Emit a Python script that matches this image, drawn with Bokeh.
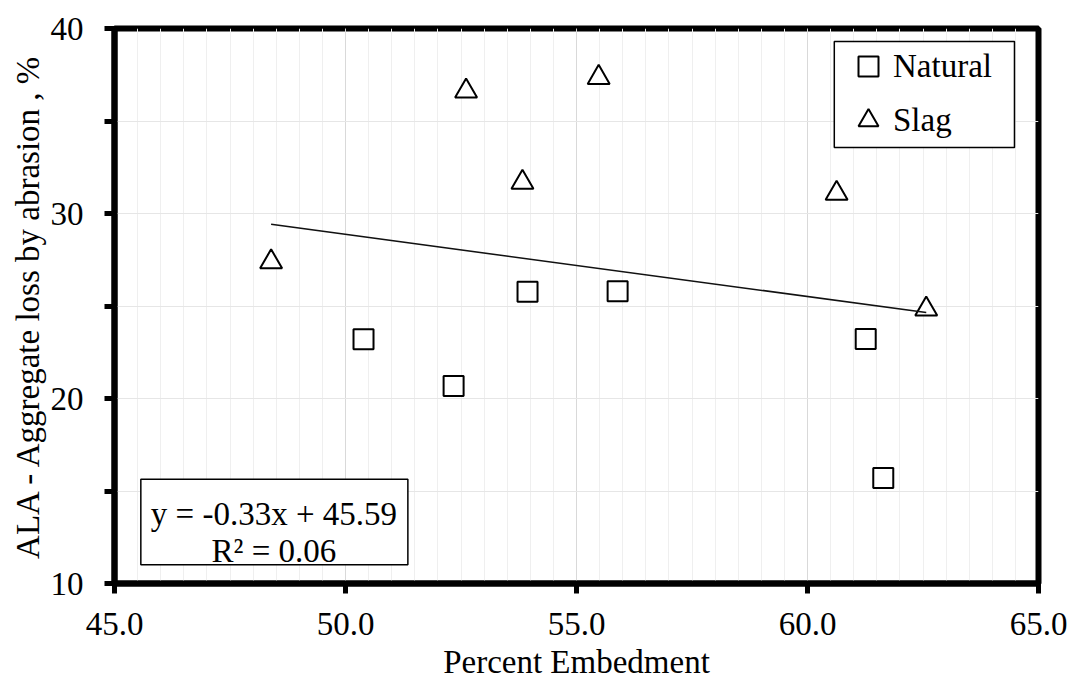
import numpy as np
from bokeh.plotting import figure
from bokeh.models import (Range1d, FixedTicker, PrintfTickFormatter, Label,
                          BoxAnnotation, Legend, LegendItem)
from bokeh.embed import file_html
from bokeh.resources import INLINE

# ---------------- data ----------------
natural_x = [50.39, 52.34, 53.94, 55.89, 61.26, 61.64]
natural_y = [23.20, 20.67, 25.77, 25.80, 23.21, 15.70]
slag_x = [48.39, 52.61, 53.83, 55.48, 60.63, 62.57]
slag_y = [27.38, 36.61, 31.68, 37.35, 31.09, 24.83]
series_names = ["Natural", "Slag"]
x_ticks = [45.0, 50.0, 55.0, 60.0, 65.0]
y_ticks = [10, 20, 30, 40]
y_minor_ticks = [15, 25, 35]
x_minor_ticks = [45 + 0.5 * i for i in range(41)]
eq_lines = ["y = -0.33x + 45.59", "R\u00b2 = 0.06"]
x_title = "Percent Embedment"
y_title = "ALA - Aggregate loss by abrasion , %"

FONT = "Liberation Serif"
FS = "33px"

p = figure(width=1072, height=683, output_backend="svg", toolbar_location=None,
           x_range=Range1d(45, 65), y_range=Range1d(10, 40),
           min_border_left=114, min_border_right=34,
           min_border_top=28, min_border_bottom=100)
p.background_fill_color = "white"
p.border_fill_color = "white"
p.outline_line_color = "black"
p.outline_line_width = 6

xt = FixedTicker(ticks=x_ticks, minor_ticks=x_minor_ticks)
yt = FixedTicker(ticks=y_ticks, minor_ticks=y_minor_ticks)
p.xaxis.ticker = xt
p.yaxis.ticker = yt
p.xgrid.ticker = xt
p.ygrid.ticker = yt
p.xaxis.formatter = PrintfTickFormatter(format="%.1f")

for ax in (p.xaxis[0], p.yaxis[0]):
    ax.axis_line_width = 6
    ax.axis_line_color = "black"
    ax.major_tick_line_width = 5
    ax.major_tick_line_color = "black"
    ax.major_tick_in = 0
    ax.major_tick_out = 10
    ax.major_label_text_font = FONT
    ax.major_label_text_font_size = FS
    ax.major_label_text_color = "black"
    ax.axis_label_text_font = FONT
    ax.axis_label_text_font_size = FS
    ax.axis_label_text_font_style = "normal"
    ax.axis_label_text_color = "black"

p.xaxis.minor_tick_line_color = None
p.yaxis.minor_tick_line_color = "black"
p.yaxis.minor_tick_line_width = 5
p.yaxis.minor_tick_in = 0
p.yaxis.minor_tick_out = 10
p.xaxis.major_label_standoff = 19
p.yaxis.major_label_standoff = 21

p.yaxis.axis_label = y_title
p.yaxis.axis_label_standoff = 2
p.xaxis.axis_label = x_title
p.xaxis.axis_label_standoff = 6

p.xgrid.grid_line_color = "#d9d9d9"
p.xgrid.minor_grid_line_color = "#efefef"
p.ygrid.grid_line_color = "#e6e6e6"
p.ygrid.minor_grid_line_color = "#e6e6e6"

# ---------------- marks ----------------
r_nat = p.scatter(natural_x, natural_y, marker="square", size=20,
                  line_color="black", line_width=2, fill_color="white")
r_slag = p.scatter(slag_x, slag_y, marker="triangle", size=22,
                   line_color="black", line_width=2, fill_color="white")

all_x = np.array(natural_x + slag_x)
all_y = np.array(natural_y + slag_y)
slope, intercept = np.polyfit(all_x, all_y, 1)
tx = np.array([all_x.min(), all_x.max()])
p.line(tx, slope * tx + intercept, line_color="#111111", line_width=1.6)

# ---------------- legend ----------------
p.add_layout(BoxAnnotation(left=60.58, right=64.48, top=39.30, bottom=33.57,
                           fill_color="white", fill_alpha=1.0,
                           line_color="black", line_width=1.5, line_alpha=1.0))
legend = Legend(items=[LegendItem(label=series_names[0], renderers=[r_nat]),
                       LegendItem(label=series_names[1], renderers=[r_slag])],
                location=(729, 438), orientation="vertical", padding=0, margin=0,
                spacing=4, glyph_width=50, glyph_height=50, label_standoff=0,
                label_text_font=FONT, label_text_font_size=FS,
                label_text_color="black",
                border_line_color=None, background_fill_alpha=0.0)
p.add_layout(legend)

# ---------------- equation box ----------------
p.add_layout(BoxAnnotation(left=45.57, right=51.35, top=15.64, bottom=11.01,
                           fill_color="white", fill_alpha=1.0,
                           line_color="black", line_width=1.5, line_alpha=1.0))
p.add_layout(Label(x=48.45, y=13.75, text=eq_lines[0], text_align="center",
                   text_baseline="alphabetic", text_font=FONT,
                   text_font_size=FS, text_color="black"))
p.add_layout(Label(x=48.45, y=11.73, text=eq_lines[1], text_align="center",
                   text_baseline="alphabetic", text_font=FONT,
                   text_font_size=FS, text_color="black"))

open("out.html", "w").write(file_html(p, INLINE))
